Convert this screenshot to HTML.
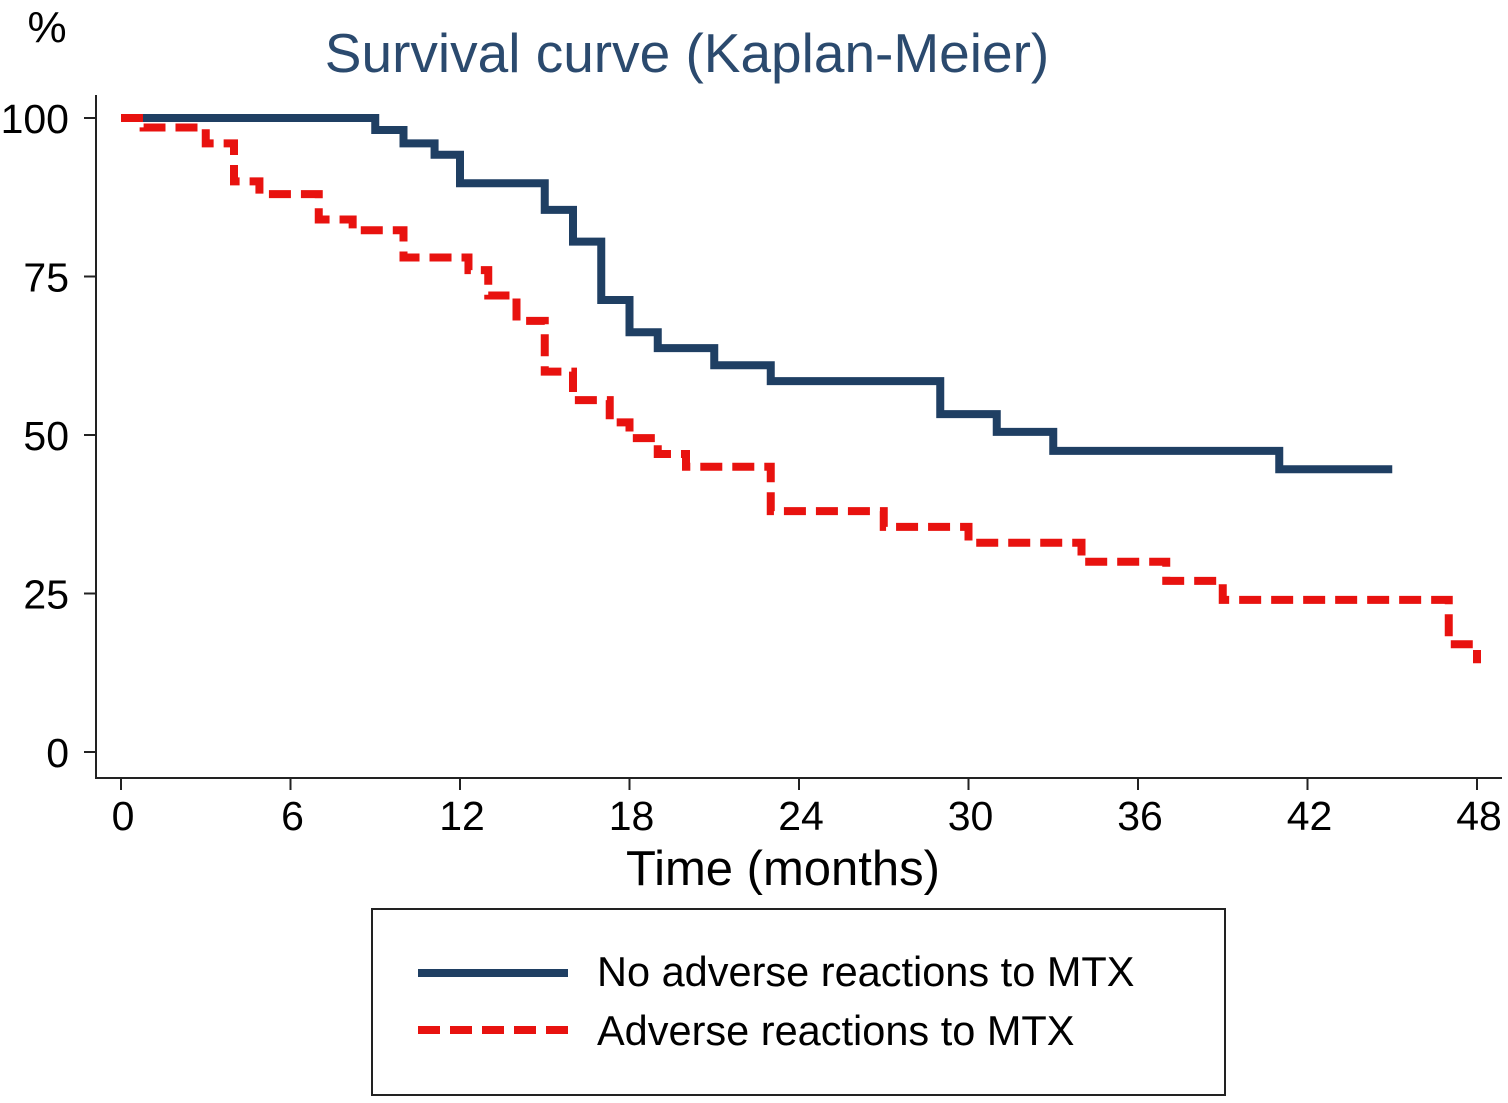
<!DOCTYPE html>
<html><head><meta charset="utf-8"><style>
body{margin:0;background:#fff}
svg{display:block;font-family:"Liberation Sans",sans-serif}
</style></head><body>
<svg id="chart" width="1508" height="1103" viewBox="0 0 1508 1103">
<text x="47" y="42" font-size="44" text-anchor="middle">%</text>
<text x="687" y="72" font-size="55" fill="#2b4a6e" text-anchor="middle">Survival curve (Kaplan-Meier)</text>
<line x1="96" y1="95" x2="96" y2="779" stroke="#222" stroke-width="2"/>
<line x1="95" y1="778" x2="1502" y2="778" stroke="#222" stroke-width="2"/>
<g id="ticks"></g>
<text x="783" y="885" font-size="49" text-anchor="middle">Time (months)</text>
<g id="series"></g>
<rect x="372" y="909" width="853" height="186" fill="none" stroke="#222" stroke-width="2"/>
<line x1="418" y1="973" x2="568" y2="973" stroke="#1f3f63" stroke-width="8"/>
<text x="597" y="986" font-size="41.5">No adverse reactions to MTX</text>
<line x1="418" y1="1030" x2="568" y2="1030" stroke="#e8120f" stroke-width="8" stroke-dasharray="22,10"/>
<text x="597" y="1045" font-size="41.5">Adverse reactions to MTX</text>
</svg>
<script>
const xTicks=[0,6,12,18,24,30,36,42,48];
const yTicks=[0,25,50,75,100];
const noAdvTimes=[0,9,10,11.1,12,15,16,17,18,19,21,23,29,31,33,41,45];
const noAdvSurv=[100,98.1,96,94.2,89.7,85.5,80.5,71.3,66.2,63.7,61,58.5,53.3,50.5,47.5,44.6,44.6];
const advTimes=[0,0.8,3,4,4.9,7,8.2,10,12.3,13,14,15,16,17.3,18,19,20,23,27,30,34,37,39,47,48,48];
const advSurv=[100,98.5,96,90,88,84,82.3,78,76,72,68,60,55.5,52,49.5,47,45,38,35.5,33,30,27,24,17,14,14];
const xs=t=>121+t*(1477-121)/48;
const ys=v=>752-v*(752-118)/100;
const NS="http://www.w3.org/2000/svg";
const tg=document.getElementById('ticks');
xTicks.forEach(t=>{
 const l=document.createElementNS(NS,'line');
 l.setAttribute('x1',xs(t));l.setAttribute('x2',xs(t));l.setAttribute('y1',778);l.setAttribute('y2',790);l.setAttribute('stroke','#222');l.setAttribute('stroke-width',2);
 
 
 tg.appendChild(l);
 const tx=document.createElementNS(NS,'text');
 tx.setAttribute('x',xs(t)+2);tx.setAttribute('y',830);tx.setAttribute('font-size',41);tx.setAttribute('text-anchor','middle');tx.textContent=t;
 
 
 tg.appendChild(tx);
});
yTicks.forEach(v=>{
 const l=document.createElementNS(NS,'line');
 l.setAttribute('x1',84);l.setAttribute('x2',96);l.setAttribute('y1',ys(v));l.setAttribute('y2',ys(v));l.setAttribute('stroke','#222');l.setAttribute('stroke-width',2);
 
 
 tg.appendChild(l);
 const tx=document.createElementNS(NS,'text');
 tx.setAttribute('x',69);tx.setAttribute('y',ys(v)+15);tx.setAttribute('font-size',41);tx.setAttribute('text-anchor','end');tx.textContent=v;
 
 
 tg.appendChild(tx);
});
function stepPath(T,S){
 let d='M'+xs(T[0])+','+ys(S[0]);
 for(let i=1;i<T.length;i++){d+=' H'+xs(T[i])+' V'+ys(S[i]);}
 return d;
}
const sg=document.getElementById('series');
const p1=document.createElementNS(NS,'path');
p1.setAttribute('d',stepPath(noAdvTimes,noAdvSurv));p1.setAttribute('fill','none');p1.setAttribute('stroke','#1f3f63');p1.setAttribute('stroke-width',8);


sg.appendChild(p1);
const p2=document.createElementNS(NS,'path');
p2.setAttribute('d',stepPath(advTimes,advSurv));p2.setAttribute('fill','none');p2.setAttribute('stroke','#e8120f');p2.setAttribute('stroke-width',8);p2.setAttribute('stroke-dasharray','22,10');


sg.appendChild(p2);
</script>
</body></html>
